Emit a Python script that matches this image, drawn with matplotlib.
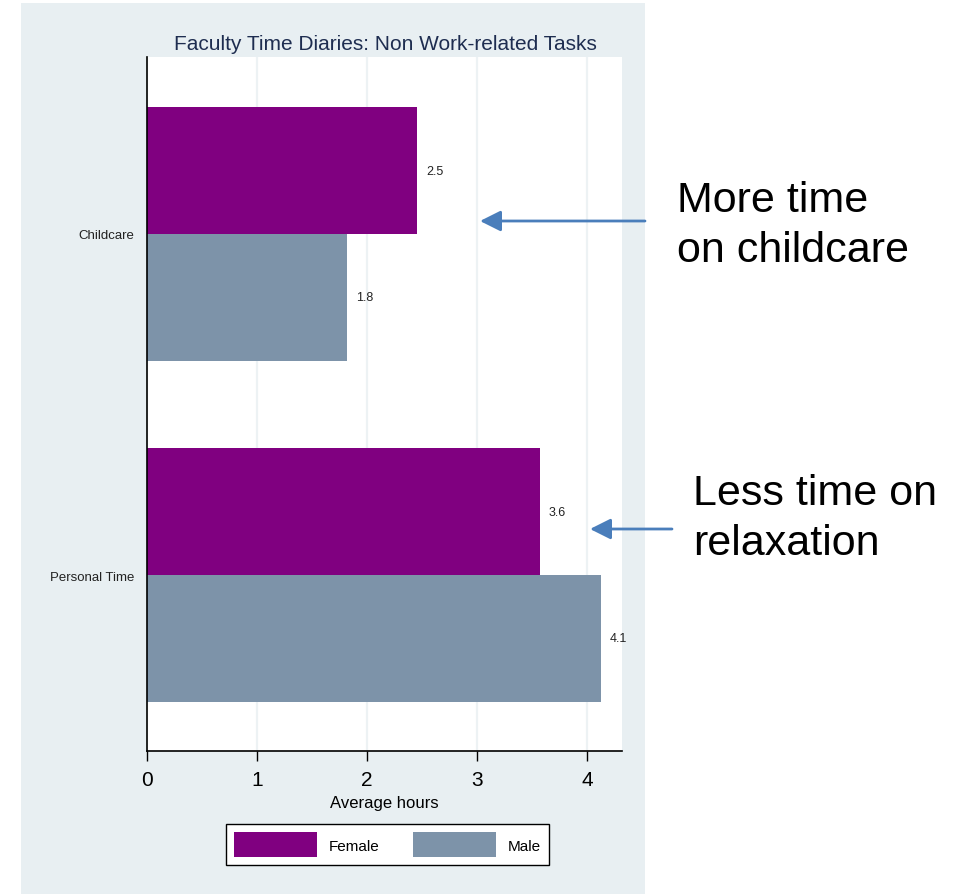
import matplotlib.pyplot as plt
from matplotlib.patches import Rectangle

plt.rcParams['font.family'] = ['Liberation Sans', 'DejaVu Sans']

categories = ['Childcare', 'Personal Time']
female_hours = [2.46, 3.57]
male_hours = [1.82, 4.13]
x_ticks = [0, 1, 2, 3, 4]

female_color = '#800080'
male_color = '#7d93a9'
panel_color = '#e8eff2'

W, H = 959, 895
fig = plt.figure(figsize=(W / 100, H / 100), dpi=100)

# light background panel behind the Stata-style graph
fig.patches.append(Rectangle((21 / W, 0), (645 - 21) / W, (H - 4) / H,
                             transform=fig.transFigure, facecolor=panel_color,
                             edgecolor='none', zorder=-1))

ax = fig.add_axes([147 / W, (H - 752) / H, 475 / W, 694 / H])
ax.set_facecolor('white')

h = 0.372
pos = list(range(len(categories)))
ax.barh([p - h / 2 for p in pos], female_hours, height=h, color=female_color, label='Female')
ax.barh([p + h / 2 for p in pos], male_hours, height=h, color=male_color, label='Male')

for p, v in zip(pos, female_hours):
    ax.text(v + 0.08, p - h / 2, f'{v:.1f}', va='center', ha='left', fontsize=9, color='#222222')
for p, v in zip(pos, male_hours):
    ax.text(v + 0.08, p + h / 2, f'{v:.1f}', va='center', ha='left', fontsize=9, color='#222222')

ax.set_xlim(0, 4.32)
ax.set_ylim(1.516, -0.519)

ax.set_xticks(x_ticks)
ax.set_xticklabels([str(t) for t in x_ticks], fontsize=15)
ax.tick_params(axis='x', direction='out', length=7, width=1, pad=7)
ax.set_yticks(pos)
ax.set_yticklabels(categories, fontsize=9.5, color='#222222')
ax.tick_params(axis='y', length=0, pad=9)

ax.grid(axis='x', color='#edf2f4', linewidth=1.6)
ax.set_axisbelow(True)
for side in ['top', 'right']:
    ax.spines[side].set_visible(False)
ax.spines['left'].set_linewidth(1.2)
ax.spines['bottom'].set_linewidth(1.2)

ax.set_xlabel('Average hours', fontsize=12, labelpad=4)
fig.text(385 / W, 1 - 44 / H, 'Faculty Time Diaries: Non Work-related Tasks',
         ha='center', va='center', fontsize=15, color='#1e2d50')

leg = fig.legend(loc='upper center', bbox_to_anchor=(387.5 / W, 1 - 825 / H),
                 ncol=2, fontsize=11, frameon=True, fancybox=False,
                 edgecolor='black', framealpha=1, handlelength=5.4,
                 handleheight=2.1, handletextpad=0.8, columnspacing=2.2,
                 borderpad=0.55, borderaxespad=0)
leg.get_frame().set_linewidth(1)

# side notes with arrows pointing into the chart
fig.text(677 / W, 1 - 212 / H, 'More time', fontsize=31, va='baseline', ha='left')
fig.text(677 / W, 1 - 262 / H, 'on childcare', fontsize=31, va='baseline', ha='left')
fig.text(693 / W, 1 - 505 / H, 'Less time on', fontsize=31, va='baseline', ha='left')
fig.text(693 / W, 1 - 555 / H, 'relaxation', fontsize=31, va='baseline', ha='left')

arrow = dict(arrowstyle='-|>,head_length=0.9,head_width=0.45', color='#4a7ebb',
             lw=2, mutation_scale=14, shrinkA=0, shrinkB=0)
fig.add_artist(plt.Annotation('', xy=(480, H - 222), xytext=(645, H - 222),
                              xycoords='figure pixels', textcoords='figure pixels',
                              arrowprops=arrow))
fig.add_artist(plt.Annotation('', xy=(590, H - 530), xytext=(672, H - 530),
                              xycoords='figure pixels', textcoords='figure pixels',
                              arrowprops=arrow))

fig.savefig('out.png', dpi=100)
